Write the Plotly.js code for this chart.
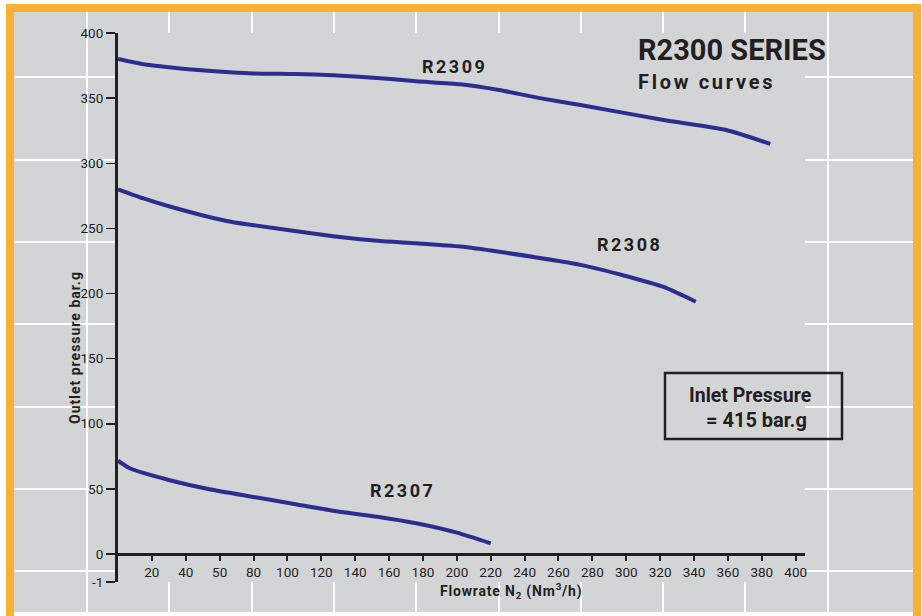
<!DOCTYPE html>
<html>
<head>
<meta charset="utf-8">
<script src="https://cdn.plot.ly/plotly-3.0.1.min.js"></script>
<style>html,body{margin:0;padding:0;background:#fff;}#chart{width:922px;height:616px;}</style>
</head>
<body>
<div id="chart"></div>
<script>
// ---- data ----
const seriesNames = ['R2309', 'R2308', 'R2307'];
const r2309X = [0, 15, 30, 55, 80, 105, 127, 153, 176, 202, 225, 249, 273, 322, 359, 385];
const r2309Y = [380, 376, 373.7, 370.8, 369, 368.5, 367.5, 365.5, 363, 360.6, 356.2, 350, 344.7, 333.2, 325.5, 314.8];
const r2308X = [0, 15, 30, 64, 79, 127, 153, 176, 202, 225, 273, 298, 322, 341];
const r2308Y = [280, 273, 267, 255.7, 252.6, 244, 240.5, 238.5, 236, 232, 222, 214, 205, 193.7];
const r2307X = [0, 7, 30, 54, 79, 104, 127, 153, 176, 200, 220];
const r2307Y = [71.6, 65.8, 56.8, 49.7, 44, 38.4, 33.2, 28.6, 23.6, 16.4, 8.2];

const xTickVals = [20, 40, 60, 80, 100, 120, 140, 160, 180, 200, 220, 240, 260, 280, 300, 320, 340, 360, 380, 400];
const xTickLabels = ['20', '40', '50', '80', '100', '120', '140', '160', '180', '200', '220', '240', '260', '280', '300', '320', '340', '360', '380', '400'];
const yTickVals = [-21.5, 0, 50, 100, 150, 200, 250, 300, 350, 400];
const yTickLabels = ['-1', '0', '50', '100', '150', '200', '250', '300', '350', '400'];

const titleText = 'R2300 SERIES';
const subtitleText = 'Flow curves';
const xTitle = 'Flowrate N<sub>2</sub> (Nm<sup>3</sup>/h)';
const yTitle = 'Outlet pressure bar.g';
const noteLine1 = 'Inlet Pressure';
const noteLine2 = '= 415 bar.g';

// ---- layout helpers (pixel -> paper fraction) ----
const W = 922, H = 616;
const M = {l: 14, r: 9, t: 12, b: 4};
const PW = W - M.l - M.r, PH = H - M.t - M.b;
const fx = px => (px - M.l) / PW;
const fy = py => (H - M.b - py) / PH;

const FONT = 'Roboto, "Liberation Sans", sans-serif';
const INK = '#231F20';
const BLUE = '#2B2E8E';

const gridX = Array.from({length: 10}, (_, k) => 87 + 82.3 * k);
const gridY = Array.from({length: 7}, (_, k) => 77.3 + 82.3 * k);

function curve(x, y) {
  return {x: x, y: y, xaxis: 'x2', yaxis: 'y2', type: 'scatter', mode: 'lines',
    line: {color: BLUE, width: 4, shape: 'spline', smoothing: 0.6},
    hoverinfo: 'skip', showlegend: false};
}

const traces = [
  {x: [], y: [], xaxis: 'x', yaxis: 'y', type: 'scatter', mode: 'lines', showlegend: false, hoverinfo: 'skip'},
  curve(r2309X, r2309Y),
  curve(r2308X, r2308Y),
  curve(r2307X, r2307Y)
];

function sp(text, ls) { return '<span style="letter-spacing:' + ls + 'px">' + text + '</span>'; }

const annotations = [
  {xref: 'paper', yref: 'paper', x: fx(636), y: fy(50), xanchor: 'left', yanchor: 'middle', showarrow: false,
   text: '<b>' + titleText + '</b>', font: {family: FONT, size: 29, color: INK}},
  {xref: 'paper', yref: 'paper', x: fx(636), y: fy(82), xanchor: 'left', yanchor: 'middle', showarrow: false,
   text: '<b>' + sp(subtitleText, 2.7) + '</b>', font: {family: FONT, size: 20, color: INK}},
  {xref: 'x2', yref: 'y2', x: 198.5, y: 374.5, xanchor: 'center', yanchor: 'middle', showarrow: false,
   text: '<b>' + sp(seriesNames[0], 2.5) + '</b>', font: {family: FONT, size: 18, color: INK}},
  {xref: 'x2', yref: 'y2', x: 302, y: 238, xanchor: 'center', yanchor: 'middle', showarrow: false,
   text: '<b>' + sp(seriesNames[1], 2.5) + '</b>', font: {family: FONT, size: 18, color: INK}},
  {xref: 'x2', yref: 'y2', x: 168, y: 48.5, xanchor: 'center', yanchor: 'middle', showarrow: false,
   text: '<b>' + sp(seriesNames[2], 2.5) + '</b>', font: {family: FONT, size: 18, color: INK}},
  {xref: 'paper', yref: 'paper', x: fx(687), y: fy(395), xanchor: 'left', yanchor: 'middle', showarrow: false,
   text: '<b>' + noteLine1 + '</b>', font: {family: FONT, size: 19.5, color: INK}},
  {xref: 'paper', yref: 'paper', x: fx(704), y: fy(420), xanchor: 'left', yanchor: 'middle', showarrow: false,
   text: '<b>' + noteLine2 + '</b>', font: {family: FONT, size: 20, color: INK}},
  {xref: 'paper', yref: 'paper', x: fx(511), y: fy(591), xanchor: 'center', yanchor: 'middle', showarrow: false,
   text: '<b>' + sp(xTitle, 0.8) + '</b>', font: {family: FONT, size: 14, color: INK}},
  {xref: 'paper', yref: 'paper', x: fx(75), y: fy(348), xanchor: 'center', yanchor: 'middle', showarrow: false, textangle: -90,
   text: '<b>' + sp(yTitle, 1) + '</b>', font: {family: FONT, size: 14, color: INK}}
];

const shapes = [
  {type: 'rect', xref: 'paper', yref: 'paper', x0: fx(665), x1: fx(842), y0: fy(439), y1: fy(373),
   line: {color: INK, width: 2.5}, fillcolor: 'rgba(0,0,0,0)', layer: 'above'},
  {type: 'rect', xref: 'paper', yref: 'paper', x0: fx(10), x1: fx(917), y0: fy(620), y1: fy(8),
   line: {color: '#F8B133', width: 8}, fillcolor: 'rgba(0,0,0,0)', layer: 'above'}
];

const layout = {
  width: W, height: H, autosize: false,
  margin: M,
  paper_bgcolor: '#ffffff',
  plot_bgcolor: '#D3D4D6',
  showlegend: false,
  xaxis: {domain: [0, 1], range: [M.l, W - M.r], anchor: 'y', tickmode: 'array', tickvals: gridX,
    showgrid: true, gridcolor: '#ffffff', gridwidth: 2, showticklabels: false, ticks: '', zeroline: false, showline: false, fixedrange: true},
  yaxis: {domain: [0, 1], range: [H - M.b, M.t], anchor: 'x', tickmode: 'array', tickvals: gridY,
    showgrid: true, gridcolor: '#ffffff', gridwidth: 2, showticklabels: false, ticks: '', zeroline: false, showline: false, fixedrange: true},
  xaxis2: {domain: [fx(118), fx(805)], range: [0, 405.5], anchor: 'free', position: fy(554),
    showgrid: false, zeroline: false, showline: true, linewidth: 3, linecolor: INK,
    ticks: 'outside', ticklen: 5, tickwidth: 2, tickcolor: INK,
    tickmode: 'array', tickvals: xTickVals, ticktext: xTickLabels,
    tickfont: {family: FONT, size: 13.5, color: INK}},
  yaxis2: {domain: [fy(582), fy(33)], range: [-21.5, 400], anchor: 'x2',
    showgrid: false, zeroline: false, showline: true, linewidth: 3, linecolor: INK,
    ticks: 'outside', ticklen: 9, tickwidth: 1.5, tickcolor: INK,
    tickmode: 'array', tickvals: yTickVals, ticktext: yTickLabels,
    tickfont: {family: FONT, size: 13.5, color: INK}},
  annotations: annotations,
  shapes: shapes
};

Plotly.newPlot('chart', traces, layout, {displayModeBar: false, staticPlot: true});
</script>
</body>
</html>
